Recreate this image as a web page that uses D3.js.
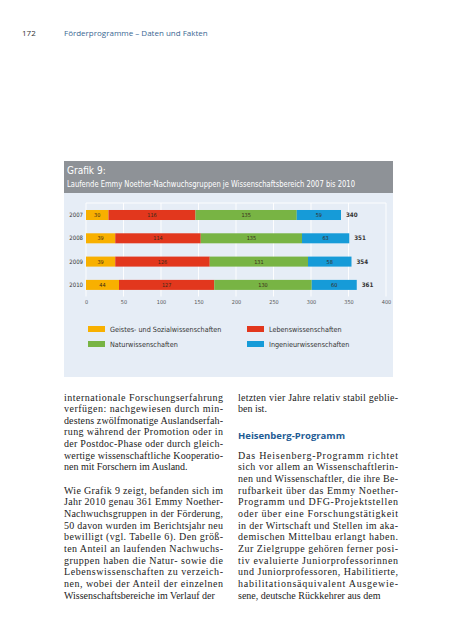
<!DOCTYPE html>
<html><head><meta charset="utf-8">
<script src="https://cdn.jsdelivr.net/npm/d3@7"></script>
<style>
html,body{margin:0;padding:0;background:#fff;}
svg{display:block;}
</style></head>
<body>
<svg id="c" width="453" height="640"></svg>
<script>
const years = ["2007", "2008", "2009", "2010"];
const seriesNames = ["Geistes- und Sozialwissenschaften", "Lebenswissenschaften", "Naturwissenschaften", "Ingenieurwissenschaften"];
const geistes = [30, 39, 39, 44];
const leben = [116, 114, 126, 127];
const natur = [135, 135, 131, 130];
const ingenieur = [59, 63, 58, 60];
const totals = [340, 351, 354, 361];
const ticks = [0, 50, 100, 150, 200, 250, 300, 350, 400];
const colors = ["#f8b000", "#e2371d", "#78b444", "#169bd8"];

const leftText = [
 ["internationale Forschungserfahrung","verfügen: nachgewiesen durch min-","destens zwölfmonatige Auslandserfah-","rung während der Promotion oder in","der Postdoc-Phase oder durch gleich-","wertige wissenschaftliche Kooperatio-","nen mit Forschern im Ausland."],
 ["Wie Grafik 9 zeigt, befanden sich im","Jahr 2010 genau 361 Emmy Noether-","Nachwuchsgruppen in der Förderung,","50 davon wurden im Berichtsjahr neu","bewilligt (vgl. Tabelle 6). Den größ-","ten Anteil an laufenden Nachwuchs-","gruppen haben die Natur- sowie die","Lebenswissenschaften zu verzeich-","nen, wobei der Anteil der einzelnen","Wissenschaftsbereiche im Verlauf der"]
];
const rightTop = ["letzten vier Jahre relativ stabil geblie-","ben ist."];
const rightHeading = "Heisenberg-Programm";
const rightBody = ["Das Heisenberg-Programm richtet","sich vor allem an Wissenschaftlerin-","nen und Wissenschaftler, die ihre Be-","rufbarkeit über das Emmy Noether-","Programm und DFG-Projektstellen","oder über eine Forschungstätigkeit","in der Wirtschaft und Stellen im aka-","demischen Mittelbau erlangt haben.","Zur Zielgruppe gehören ferner posi-","tiv evaluierte Juniorprofessorinnen","und Juniorprofessoren, Habilitierte,","habilitationsäquivalent Ausgewie-","sene, deutsche Rückkehrer aus dem"];

const svg = d3.select("#c");
const sans = "'Liberation Sans Narrow','DejaVu Sans Condensed','Open Sans',sans-serif";
const serif = "'Liberation Serif','DejaVu Serif',serif";

// page header
svg.append("text").attr("x",22).attr("y",35.5).attr("font-family","'Open Sans',sans-serif").attr("font-size",8).attr("fill","#333").text("172");
svg.append("text").attr("x",64).attr("y",35.5).attr("font-family","'Open Sans',sans-serif").attr("font-size",8).attr("fill","#3b6792").text("Förderprogramme – Daten und Fakten");

// panel
svg.append("rect").attr("x",64).attr("y",161).attr("width",329).attr("height",216).attr("fill","#e6edf6");
svg.append("rect").attr("x",64).attr("y",161).attr("width",329).attr("height",32).attr("fill","#8e9297");
svg.append("text").attr("x",67).attr("y",173.5).attr("font-family",sans).attr("font-size",10).attr("fill","#fff").text("Grafik 9:");
svg.append("text").attr("x",67).attr("y",186.5).attr("font-family",sans).attr("font-size",9.3).attr("fill","#fff")
  .attr("textLength",288).attr("lengthAdjust","spacingAndGlyphs")
  .text("Laufende Emmy Noether-Nachwuchsgruppen je Wissenschaftsbereich 2007 bis 2010");

const x = d3.scaleLinear().domain([0,400]).range([86,386]);
const y = d3.scaleBand().domain(years).range([203.35,296.55]).paddingInner(0.57).paddingOuter(0.285);

// plot frame and grid
const g = svg.append("g");
g.selectAll("line.grid").data(ticks).join("line").attr("class","grid")
  .attr("x1",d=>x(d)).attr("x2",d=>x(d)).attr("y1",203).attr("y2",296.5)
  .attr("stroke","#fff").attr("stroke-width",0.9);
g.append("line").attr("x1",x(0)).attr("x2",x(400)).attr("y1",203).attr("y2",203).attr("stroke","#fff").attr("stroke-width",0.9);

// axis
const axis = d3.axisBottom(x).tickValues(ticks).tickSize(0).tickPadding(0);
const ax = svg.append("g").attr("transform","translate(0,302)").call(axis);
ax.select(".domain").remove();
ax.selectAll("text").attr("font-family",sans).attr("font-size",5.5).attr("fill","#555").attr("dy","0.35em").attr("y",0);

// stacked bars
const rows = years.map((yr,i)=>({year:yr, vals:[geistes[i],leben[i],natur[i],ingenieur[i]], total: totals[i]}));
const stackData = rows.map(r=>({year:r.year, s0:r.vals[0], s1:r.vals[1], s2:r.vals[2], s3:r.vals[3]}));
const stack = d3.stack().keys(["s0","s1","s2","s3"])(stackData);
const layers = svg.append("g").selectAll("g").data(stack).join("g").attr("fill",(d,i)=>colors[i]);
layers.selectAll("rect").data(d=>d).join("rect")
  .attr("x",d=>x(d[0])).attr("width",d=>x(d[1])-x(d[0]))
  .attr("y",d=>y(d.data.year)).attr("height",y.bandwidth());
layers.selectAll("text").data(d=>d).join("text")
  .attr("x",d=>(x(d[0])+x(d[1]))/2).attr("y",d=>y(d.data.year)+y.bandwidth()/2)
  .attr("dy","0.35em").attr("text-anchor","middle").attr("font-family",sans).attr("font-size",5.5)
  .attr("fill","#3a2a1a").text(d=>d[1]-d[0]);

// totals
svg.append("g").selectAll("text").data(rows).join("text")
  .attr("x",d=>x(d.total)+5).attr("y",d=>y(d.year)+y.bandwidth()/2).attr("dy","0.35em")
  .attr("font-family",sans).attr("font-size",6.2).attr("font-weight","bold").attr("fill","#333").text(d=>d.total);

// year labels
svg.append("g").selectAll("text").data(years).join("text")
  .attr("x",83).attr("y",d=>y(d)+y.bandwidth()/2).attr("dy","0.35em").attr("text-anchor","end")
  .attr("font-family",sans).attr("font-size",6).attr("fill","#333").text(d=>d);

// legend
const legPos = [[88,329],[247,329],[88,344],[247,344]];
const leg = svg.append("g").selectAll("g").data(seriesNames).join("g")
  .attr("transform",(d,i)=>`translate(${legPos[i][0]},${legPos[i][1]})`);
leg.append("rect").attr("x",0).attr("y",-3).attr("width",17).attr("height",6).attr("fill",(d,i)=>colors[i]);
leg.append("text").attr("x",22).attr("y",0).attr("dy","0.35em").attr("font-family",sans).attr("font-size",7.2).attr("fill","#333").text(d=>d);

// body text
const lh = 11.65, base0 = 400.5;
function para(lines, x0, width, startIdx){
  lines.forEach((l,i)=>{
    const t = svg.append("text").attr("x",x0).attr("y",base0 + (startIdx+i)*lh)
      .attr("font-family",serif).attr("font-size",10).attr("fill","#222").text(l);
    if(i < lines.length-1){ t.attr("textLength",width).attr("lengthAdjust","spacing"); }
  });
}
para(leftText[0], 64, 159, 0);
para(leftText[1], 64, 159, 8);
para(rightTop, 238, 160, 0);
svg.append("text").attr("x",238).attr("y",438.5).attr("font-family","'Open Sans',sans-serif").attr("font-weight","bold")
  .attr("font-size",9.5).attr("fill","#1e5b94").text(rightHeading);
para(rightBody, 238, 160, 5);
</script>
</body></html>
